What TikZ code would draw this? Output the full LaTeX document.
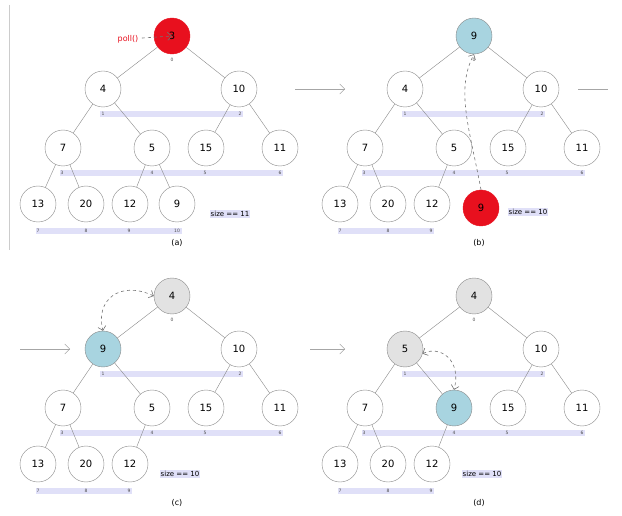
\documentclass[tikz,border=0pt]{standalone}
\usepackage{fontspec}
\setmainfont{DejaVu Sans}
\usetikzlibrary{arrows.meta}
\definecolor{hred}{HTML}{E8101E}
\definecolor{hblue}{HTML}{A8D4E0}
\definecolor{hgray}{HTML}{E2E2E2}
\definecolor{hbar}{HTML}{E0E0F8}
\definecolor{hline}{HTML}{888888}
\begin{document}
\begin{tikzpicture}[x=1pt,y=-1pt,
  circ/.style={circle,draw=hline,line width=0.4pt,minimum size=36pt,inner sep=0pt,font=\fontsize{10}{12}\selectfont,fill=white},
  idx/.style={font=\fontsize{4.5}{5}\selectfont,text=black!70,inner sep=0pt},
  bar/.style={fill=hbar,draw=none},
  edge/.style={draw=hline,line width=0.4pt},
  swap/.style={draw=black!55,dashed,line width=0.6pt,-{Straight Barb[length=4pt]}},
  pass/.style={draw=black!35,line width=0.4pt},
  capt/.style={font=\fontsize{8}{10}\selectfont},
  sz/.style={fill=hbar,font=\fontsize{7}{8}\selectfont,inner sep=1pt}]
\useasboundingbox (0,0) rectangle (622,516);
\draw[black!20] (9,5) -- (9,250);
\newcommand\heapbars[1]{%
  \fill[bar] (100,111) rectangle (243,117);
  \fill[bar] (60,170) rectangle (283,176);
  \fill[bar] (36,228) rectangle (#1,234);}
\newcommand\heapidx[2]{%
  \foreach \i/\x/\y in {0/172/60,1/103/114,2/240/114,3/62/173,4/152/173,5/205/173,6/280/173,7/38/231,8/86/231,9/129/231,10/177/231}{%
    \ifnum\i<#2 \node[idx] (#1l\i) at (\x,\y) {\i};\fi}}
% ---- (a)
\begin{scope}
\heapbars{182}\heapidx{a}{11}
\node[circ,fill=hred,draw=hred] (a0) at (172,36) {3};
\node[circ] (a1) at (103,89) {4}; \node[circ] (a2) at (239,89) {10};
\node[circ] (a3) at (63,148) {7}; \node[circ] (a4) at (152,148) {5};
\node[circ] (a5) at (206,148) {15}; \node[circ] (a6) at (280,148) {11};
\node[circ] (a7) at (38,204) {13}; \node[circ] (a8) at (86,204) {20};
\node[circ] (a9) at (130,204) {12}; \node[circ] (a10) at (177,204) {9};
\node[sz] (asz) at (230,214) {size == 11};
\node[capt] (acap) at (177,243) {(a)};
\node[text=hred,font=\fontsize{8}{10}\selectfont] (poll) at (128,39) {poll()};
\draw[swap] (poll) -- (a0.center);
\end{scope}
\draw[edge] (a0)--(a1) (a0)--(a2) (a1)--(a3) (a1)--(a4) (a2)--(a5) (a2)--(a6)
 (a3)--(a7) (a3)--(a8) (a4)--(a9) (a4)--(a10);
% ---- (b)
\begin{scope}[shift={(302,0)}]
\heapbars{132}\heapidx{b}{10}
\node[circ,fill=hblue] (b0) at (172,36) {9};
\node[circ] (b1) at (103,89) {4}; \node[circ] (b2) at (239,89) {10};
\node[circ] (b3) at (63,148) {7}; \node[circ] (b4) at (152,148) {5};
\node[circ] (b5) at (206,148) {15}; \node[circ] (b6) at (280,148) {11};
\node[circ] (b7) at (38,204) {13}; \node[circ] (b8) at (86,204) {20};
\node[circ] (b9) at (130,204) {12}; \node[circ,fill=hred,draw=hred] (b10) at (179,208) {9};
\node[sz] (bsz) at (226,212) {size == 10};
\node[capt] (bcap) at (177,243) {(b)};
\end{scope}
\draw[edge] (b0)--(b1) (b0)--(b2) (b1)--(b3) (b1)--(b4) (b2)--(b5) (b2)--(b6)
 (b3)--(b7) (b3)--(b8) (b4)--(b9);
\draw[swap] (b10.north) .. controls (470,130) and (455,90) .. (b0.south);
% ---- (c)
\begin{scope}[shift={(0,260)}]
\heapbars{132}\heapidx{c}{10}
\node[circ,fill=hgray] (c0) at (172,36) {4};
\node[circ,fill=hblue] (c1) at (103,89) {9}; \node[circ] (c2) at (239,89) {10};
\node[circ] (c3) at (63,148) {7}; \node[circ] (c4) at (152,148) {5};
\node[circ] (c5) at (206,148) {15}; \node[circ] (c6) at (280,148) {11};
\node[circ] (c7) at (38,204) {13}; \node[circ] (c8) at (86,204) {20};
\node[circ] (c9) at (130,204) {12};
\node[sz] (csz) at (180,214) {size == 10};
\node[capt] (ccap) at (177,243) {(c)};
\end{scope}
\draw[edge] (c0)--(c1) (c0)--(c2) (c1)--(c3) (c1)--(c4) (c2)--(c5) (c2)--(c6)
 (c3)--(c7) (c3)--(c8) (c4)--(c9);
\draw[swap,{Straight Barb[length=4pt]}-{Straight Barb[length=4pt]}] (c0.west) .. controls (120,280) and (95,300) .. (c1.north);
% ---- (d)
\begin{scope}[shift={(302,260)}]
\heapbars{132}\heapidx{d}{10}
\node[circ,fill=hgray] (d0) at (172,36) {4};
\node[circ,fill=hgray] (d1) at (103,89) {5}; \node[circ] (d2) at (239,89) {10};
\node[circ] (d3) at (63,148) {7}; \node[circ,fill=hblue] (d4) at (152,148) {9};
\node[circ] (d5) at (206,148) {15}; \node[circ] (d6) at (280,148) {11};
\node[circ] (d7) at (38,204) {13}; \node[circ] (d8) at (86,204) {20};
\node[circ] (d9) at (130,204) {12};
\node[sz] (dsz) at (180,214) {size == 10};
\node[capt] (dcap) at (177,243) {(d)};
\end{scope}
\draw[edge] (d0)--(d1) (d0)--(d2) (d1)--(d3) (d1)--(d4) (d2)--(d5) (d2)--(d6)
 (d3)--(d7) (d3)--(d8) (d4)--(d9);
\draw[swap,{Straight Barb[length=4pt]}-{Straight Barb[length=4pt]}] (d1.-15) .. controls (440,345) and (462,360) .. (d4.north);
% ---- passing arrows
\coordinate (p1s) at (295,89); \coordinate (p1e) at (345,89);
\coordinate (p2s) at (578,89); \coordinate (p2e) at (608,89);
\coordinate (p3s) at (20,349); \coordinate (p3e) at (70,349);
\coordinate (p4s) at (310,349); \coordinate (p4e) at (345,349);
\draw[pass,-{Straight Barb[length=5pt]}] (p1s) -- (p1e);
\draw[pass] (p2s) -- (p2e);
\draw[pass,-{Straight Barb[length=5pt]}] (p3s) -- (p3e);
\draw[pass,-{Straight Barb[length=5pt]}] (p4s) -- (p4e);
\end{tikzpicture}
\end{document}
